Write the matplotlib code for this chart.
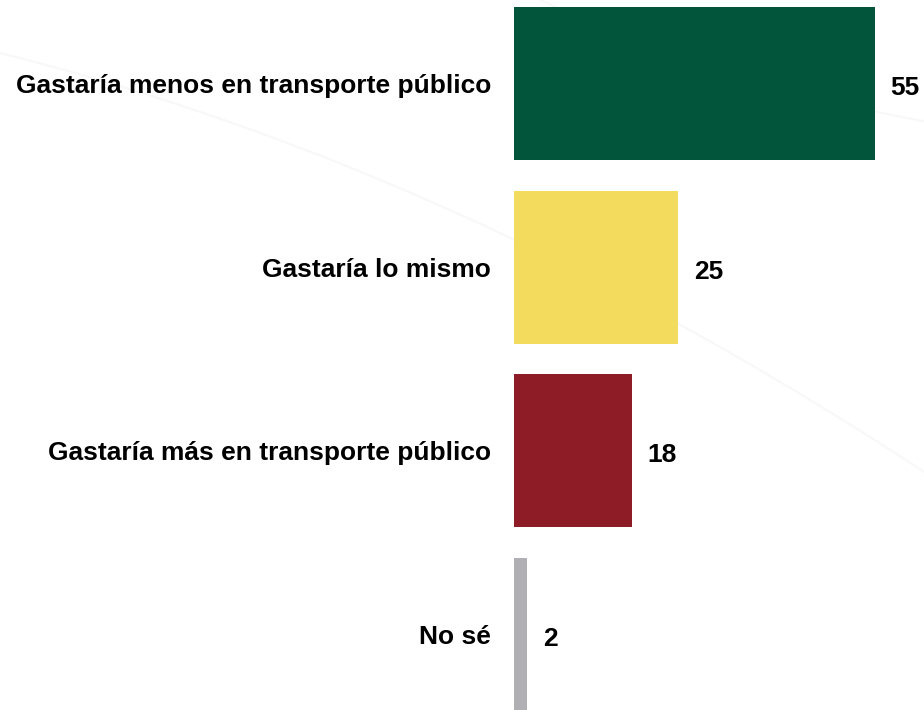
import matplotlib
matplotlib.use("Agg")
import matplotlib.pyplot as plt
import numpy as np

# Survey answers and percentages
categories = ["Gastaría menos en transporte público", "Gastaría lo mismo",
              "Gastaría más en transporte público", "No sé"]
values = [55, 25, 18, 2]
colors = ["#02553a", "#f3db5d", "#8e1c26", "#b0afb4"]

plt.rcParams['font.family'] = ['Liberation Sans', 'DejaVu Sans']

fig = plt.figure(figsize=(9.24, 7.10), dpi=100)
fig.patch.set_facecolor("white")

# faint decorative arcs in the background
bg = fig.add_axes([0, 0, 1, 1], zorder=0)
bg.set_xlim(0, 924)
bg.set_ylim(710, 0)
bg.axis("off")
xa = np.linspace(0, 924, 200)
bg.plot(xa, 53 + 0.25 * xa + 0.00022 * xa ** 2, color="#f8f8f8", lw=1.5)
xb = np.linspace(540, 924, 200)
bg.plot(xb, (xb - 540) * 0.45 - 0.00035 * (xb - 540) ** 2, color="#f8f8f8", lw=1.5)

ax = fig.add_axes([514 / 924, -0.0231, 410 / 924, 1.0348], zorder=1)
ax.patch.set_alpha(0)
y = np.arange(len(categories))
ax.barh(y, values, height=0.833, color=colors)
ax.set_xlim(0, 62.5)
ax.set_ylim(3.5, -0.5)

for yi, v in zip(y, values):
    ax.text(v + 2.4, yi + 0.01, f"{v}", va="center_baseline", ha="left",
            fontsize=19, fontweight="bold", color="black")

ax.set_yticks(y)
ax.set_yticklabels(categories, fontsize=19, fontweight="bold")
ax.tick_params(axis="y", length=0, pad=16.5)
ax.set_xticks([])
for s in ax.spines.values():
    s.set_visible(False)

fig.savefig("out.png", dpi=100)
